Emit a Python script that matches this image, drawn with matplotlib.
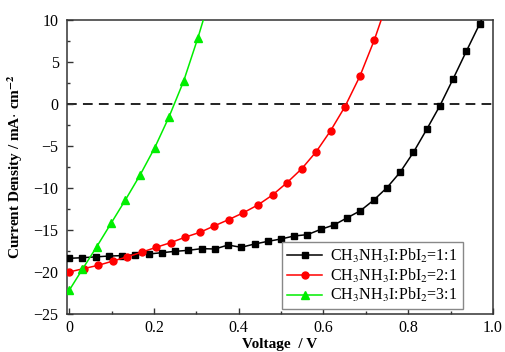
import numpy as np
import matplotlib
matplotlib.use("Agg")
import matplotlib.pyplot as plt
from matplotlib.ticker import MultipleLocator

plt.rcParams['font.family'] = ['Liberation Serif', 'DejaVu Serif']
plt.rcParams['mathtext.fontset'] = 'stix'

labels = ["CH$_3$NH$_3$I:PbI$_2$=1:1", "CH$_3$NH$_3$I:PbI$_2$=2:1", "CH$_3$NH$_3$I:PbI$_2$=3:1"]

# 1:1 (black squares), last value = curve end beyond frame (no marker)
v_11 = [0.0, 0.031, 0.0625, 0.094, 0.125, 0.156, 0.1875, 0.219, 0.25, 0.281, 0.3125,
        0.344, 0.375, 0.406, 0.4375, 0.469, 0.5, 0.531, 0.5625, 0.594, 0.625, 0.656,
        0.6875, 0.719, 0.75, 0.781, 0.8125, 0.844, 0.875, 0.906, 0.9375, 0.969, 0.985]
j_11 = [-18.37, -18.3, -18.2, -18.1, -18.05, -17.94, -17.86, -17.7, -17.54, -17.42, -17.22,
        -17.26, -16.79, -17.06, -16.67, -16.35, -16.07, -15.71, -15.55, -14.92, -14.4, -13.55,
        -12.7, -11.43, -9.96, -8.13, -5.75, -3.0, -0.2, 2.98, 6.3, 9.56, 11.4]

# 2:1 (red circles)
v_21 = [0.0, 0.034, 0.069, 0.103, 0.137, 0.171, 0.206, 0.240, 0.274, 0.309, 0.343,
        0.377, 0.411, 0.446, 0.480, 0.514, 0.549, 0.583, 0.617, 0.651, 0.686, 0.720, 0.754]
j_21 = [-20.0, -19.6, -19.2, -18.7, -18.2, -17.65, -17.05, -16.5, -15.85, -15.27, -14.5,
        -13.75, -12.95, -12.0, -10.83, -9.37, -7.70, -5.68, -3.18, -0.3, 3.3, 7.6, 12.6]

# 3:1 (green triangles)
v_31 = [0.0, 0.031, 0.065, 0.099, 0.133, 0.168, 0.202, 0.236, 0.270, 0.304, 0.338]
j_31 = [-22.2, -19.7, -17.0, -14.2, -11.4, -8.4, -5.2, -1.5, 2.7, 7.9, 13.6]

fig = plt.figure(figsize=(5.05, 3.52), dpi=100)
ax = fig.add_axes([0.1327, 0.108, 0.8433, 0.835])

ax.axhline(0, color='#222222', lw=1.4, ls=(0, (5, 3.2)), zorder=1)

ax.plot(v_11, j_11, color='black', lw=1.1, marker='s', ms=4.5, markevery=slice(0, -1),
        label=labels[0], zorder=3)
ax.plot(v_21, j_21, color='#ff0000', lw=1.1, marker='o', ms=5, markevery=slice(0, -1),
        label=labels[1], zorder=3)
ax.plot(v_31, j_31, color='#00ee00', lw=1.1, marker='^', ms=5.5, markevery=slice(0, -1),
        label=labels[2], zorder=3)

ax.set_xlim(-0.005, 1.0)
ax.set_ylim(-25, 10)
ax.xaxis.set_major_locator(MultipleLocator(0.2))
ax.xaxis.set_minor_locator(MultipleLocator(0.1))
ax.yaxis.set_major_locator(MultipleLocator(5))
ax.yaxis.set_minor_locator(MultipleLocator(2.5))
ax.set_xticks([0, 0.2, 0.4, 0.6, 0.8, 1.0])
ax.set_xticklabels(['0', '0.2', '0.4', '0.6', '0.8', '1.0'])
ax.tick_params(which='both', direction='in', color='#333333')
ax.tick_params(which='major', length=4, width=1, labelsize=11.5, pad=4)
ax.tick_params(which='minor', length=2.5, width=1)
ax.tick_params(axis='y', which='major', pad=6)
for s in ax.spines.values():
    s.set_color('#333333')
    s.set_linewidth(1.1)

ax.set_ylabel('Current Density / mA$\\cdot$ cm$^{\\mathbf{-2}}$', fontsize=11, fontweight='bold', labelpad=6)
ax.set_xlabel('Voltage  / V', fontsize=11, fontweight='bold', labelpad=2)

leg = ax.legend(loc='lower right', bbox_to_anchor=(0.94, 0.0), fontsize=11.5, frameon=True,
                fancybox=False, edgecolor='#888888', framealpha=1, handlelength=2.2,
                borderpad=0.3, labelspacing=0.1, handletextpad=0.5, borderaxespad=0.3)
leg.get_frame().set_linewidth(1.0)

fig.savefig('out.png', dpi=100)
